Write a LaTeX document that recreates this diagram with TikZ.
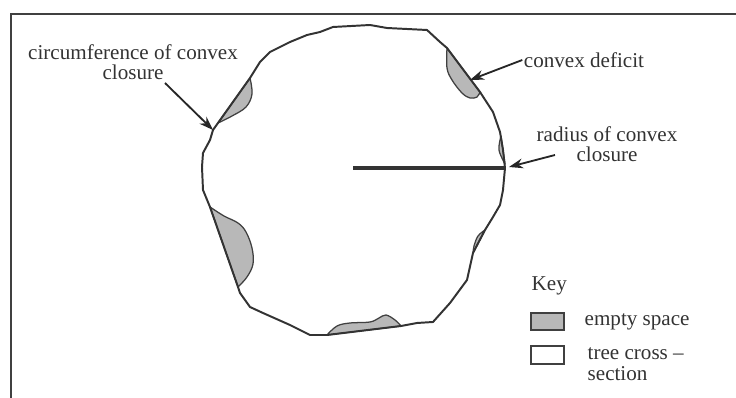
\documentclass[tikz,border=0pt]{standalone}
\usepackage{fontspec}
\setmainfont{Liberation Serif}
\usepackage{tikz}
\usetikzlibrary{arrows.meta}

\tikzset{
  outline/.style={draw=black!80, line width=1.4pt, line join=round},
  gap/.style={fill=black!28, draw=black!75, line width=0.9pt, line join=round},
  lbl/.style={font=\fontsize{15}{14.5}\selectfont, text=black!80, inner sep=1pt, align=center},
  pointer/.style={draw=black!85, line width=1.3pt, -{Stealth[length=10pt,width=7pt]}},
  keybox/.style={draw=black!75, line width=1.2pt},
}

\begin{document}
\begin{tikzpicture}[x=0.025cm, y=-0.025cm]
\useasboundingbox (0,0) rectangle (736,398);
% frame
\draw[black!75, line width=1.2pt] (11,398) -- (11,14) -- (736,14);

% empty space between the closure and the stem
\filldraw[gap] plot[smooth, tension=0.6] coordinates {(250,78) (252,94) (246,107) (232,116) (218,123)} -- cycle;
\filldraw[gap] plot[smooth, tension=0.6] coordinates {(447,48) (447,68) (452,80) (462,93) (470,98) (477,97) (480,92)} -- cycle;
\filldraw[gap] plot[smooth, tension=0.6] coordinates {(501,136) (499,150) (505,164)} -- cycle;
\filldraw[gap] plot[smooth, tension=0.6] coordinates {(485,230) (478,236) (474,246) (473,253)} -- cycle;
\filldraw[gap] plot[smooth, tension=0.6] coordinates {(210,207) (224,216) (238,223) (246,232) (252,248) (253,264) (247,277) (238,287)} -- cycle;
\filldraw[gap] plot[smooth, tension=0.6] coordinates {(327,335) (337,326) (350,323) (370,322) (379,318) (386,315) (395,320) (401,326)} -- cycle;

% convex closure
\draw[outline] (370,25) -- (387,28) -- (427,30) -- (440,42) -- (447,48) -- (480,92)
  -- (493,112) -- (500,132) -- (503,150) -- (505,168) -- (503,190) -- (500,205)
  -- (493,217) -- (485,230) -- (473,253) -- (467,280) -- (450,303) -- (433,322)
  -- (417,323) -- (401,326) -- (327,335) -- (310,335) -- (290,325) -- (263,313)
  -- (250,307) -- (240,293) -- (238,287) -- (210,207) -- (203,190) -- (202,167)
  -- (203,153) -- (210,140) -- (213,130) -- (250,78) -- (260,62) -- (270,52)
  -- (290,42) -- (307,35) -- (320,32) -- (333,27) -- cycle;

% radius
\coordinate (centre) at (353,168);
\coordinate (rim) at (505,168);
\draw[black!80, line width=2.4pt] (centre) -- (rim);

% labels
\node[lbl] (circ) at (133,62) {circumference of convex\\closure};
\node[lbl] (deficit) at (584,60) {convex deficit};
\node[lbl] (radius) at (607,144) {radius of convex\\closure};

\coordinate (circtail) at (165,83);
\coordinate (circtip) at (213,130);
\coordinate (deficittip) at (470,80);
\coordinate (radiustail) at (555,155);
\coordinate (radiustip) at (509,167);

\draw[pointer] (circtail) -- (circtip);
\draw[pointer] (deficit.west) -- (deficittip);
\draw[pointer] (radiustail) -- (radiustip);

% key
\node[lbl, anchor=west] (key) at (530,286) {Key};
\draw[keybox, fill=black!28] (531,313) rectangle (564,330);
\node[lbl, anchor=west] (empty) at (583,322) {empty space};
\draw[keybox] (531,346) rectangle (564,364);
\node[lbl, anchor=west, align=left] (tree) at (586,364) {tree cross --\\section};
\end{tikzpicture}
\end{document}
